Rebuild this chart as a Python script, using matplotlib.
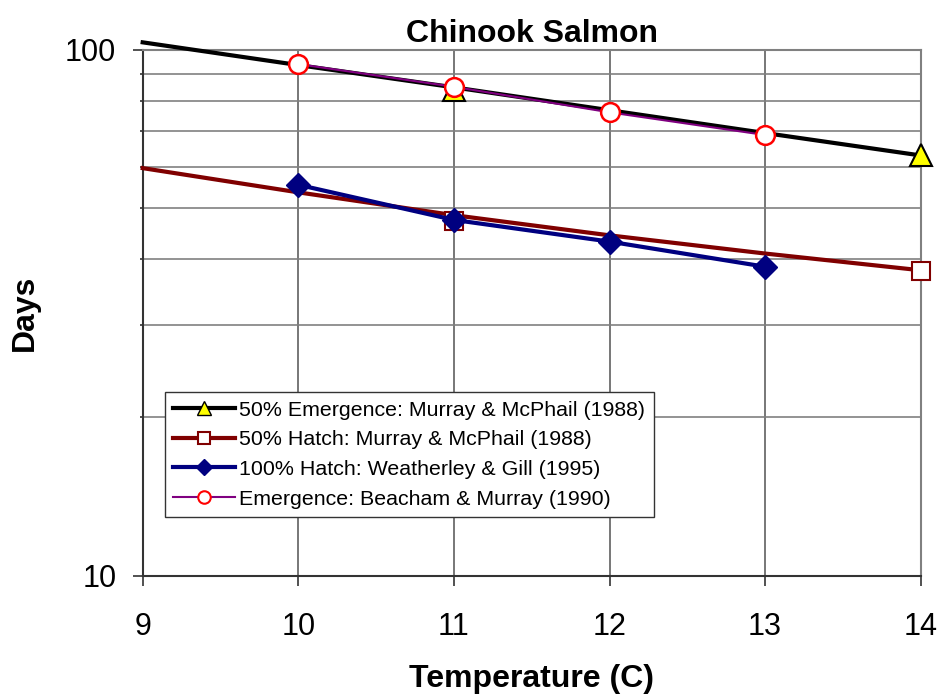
import matplotlib.pyplot as plt
from matplotlib.lines import Line2D
from matplotlib.ticker import NullFormatter

plt.rcParams['font.family'] = ['Liberation Sans', 'DejaVu Sans']

# valeurs
temp_trend = [9, 10, 11, 12, 13, 14]
emerg_mm_trend = [103.4, 93.6, 84.9, 76.8, 69.5, 63.0]
hatch_mm_trend = [59.6, 53.6, 48.5, 44.4, 41.0, 38.1]

emerg_mm_temp = [11, 14]
emerg_mm_days = [84.1, 63.0]
hatch_mm_temp = [11, 14]
hatch_mm_days = [47.3, 38.0]

hatch_wg_temp = [10, 11, 12, 13]
hatch_wg_days = [55.4, 47.5, 43.2, 38.7]

emerg_bm_temp = [10, 11, 12, 13]
emerg_bm_days = [94.0, 85.1, 76.1, 68.9]

labels = ["50% Emergence: Murray & McPhail (1988)",
          "50% Hatch: Murray & McPhail (1988)",
          "100% Hatch: Weatherley & Gill (1995)",
          "Emergence: Beacham & Murray (1990)"]

x_ticks = [9, 10, 11, 12, 13, 14]
y_major = [10, 100]
y_minor = [20, 30, 40, 50, 60, 70, 80, 90]

fig = plt.figure(figsize=(9.4, 6.94), dpi=100)
ax = fig.add_axes([0.1518, 0.1705, 0.8277, 0.7575])

# courbes de tendance (noire et rouge)
ax.plot(temp_trend, emerg_mm_trend, color='black', lw=3, clip_on=False, zorder=3)
ax.plot(temp_trend, hatch_mm_trend, color='#800000', lw=3, clip_on=False, zorder=3)

# points
ax.plot(emerg_mm_temp, emerg_mm_days, ls='none', marker='^', ms=15.5, mfc='yellow',
        mec='black', mew=1.5, clip_on=False, zorder=4)
ax.plot(hatch_mm_temp, hatch_mm_days, ls='none', marker='s', ms=13.5, mfc='white',
        mec='#800000', mew=1.5, clip_on=False, zorder=4)
ax.plot(hatch_wg_temp, hatch_wg_days, color='#000080', lw=3, marker='D', ms=12.5,
        mfc='#000080', mec='#000080', clip_on=False, zorder=5)
ax.plot(emerg_bm_temp, emerg_bm_days, color='#800080', lw=1.5, marker='o', ms=13.5,
        mfc='white', mec='red', mew=1.8, clip_on=False, zorder=6)

ax.set_yscale('log')
ax.set_xlim(9, 14)
ax.set_ylim(10, 100)
ax.set_xticks(x_ticks)
ax.set_xticklabels([str(t) for t in x_ticks])
ax.set_yticks(y_major)
ax.set_yticklabels([str(v) for v in y_major])
ax.set_yticks(y_minor, minor=True)
ax.yaxis.set_minor_formatter(NullFormatter())

ax.grid(True, which='both', axis='y', color='#808080', lw=1.2, zorder=1)
ax.grid(True, which='major', axis='x', color='#606060', lw=1.2, zorder=1)
ax.set_axisbelow(True)

ax.tick_params(axis='both', which='major', labelsize=22, length=7, width=1.2,
               color='#333333', direction='out')
ax.tick_params(axis='x', pad=19)
ax.tick_params(axis='y', pad=12)
ax.tick_params(axis='y', which='minor', length=2, width=1.2, color='#333333')

for s in ['left', 'bottom']:
    ax.spines[s].set_color('#333333')
    ax.spines[s].set_linewidth(1.5)
for s in ['top', 'right']:
    ax.spines[s].set_color('#808080')
    ax.spines[s].set_linewidth(1.5)

ax.set_title('Chinook Salmon', fontsize=23, fontweight='bold', pad=6)
ax.set_xlabel('Temperature (C)', fontsize=23, fontweight='bold', labelpad=16)
ax.set_ylabel('Days', fontsize=23, fontweight='bold', labelpad=18)

handles = [
    Line2D([], [], color='black', lw=3, marker='^', ms=10, mfc='yellow', mec='black'),
    Line2D([], [], color='#800000', lw=3, marker='s', ms=9, mfc='white', mec='#800000', mew=1.5),
    Line2D([], [], color='#000080', lw=3, marker='D', ms=8, mfc='#000080', mec='#000080'),
    Line2D([], [], color='#800080', lw=1.5, marker='o', ms=9, mfc='white', mec='red', mew=1.5),
]
leg = ax.legend(handles, labels, loc='lower left', bbox_to_anchor=(0.0287, 0.112),
                fontsize=15.4, fancybox=False, framealpha=1, edgecolor='#333333',
                handlelength=2.9, labelspacing=0.5, borderpad=0.38, handletextpad=0.2,
                borderaxespad=0)
leg.get_frame().set_linewidth(1.0)
leg.set_zorder(10)

fig.savefig('out.png', dpi=100)
